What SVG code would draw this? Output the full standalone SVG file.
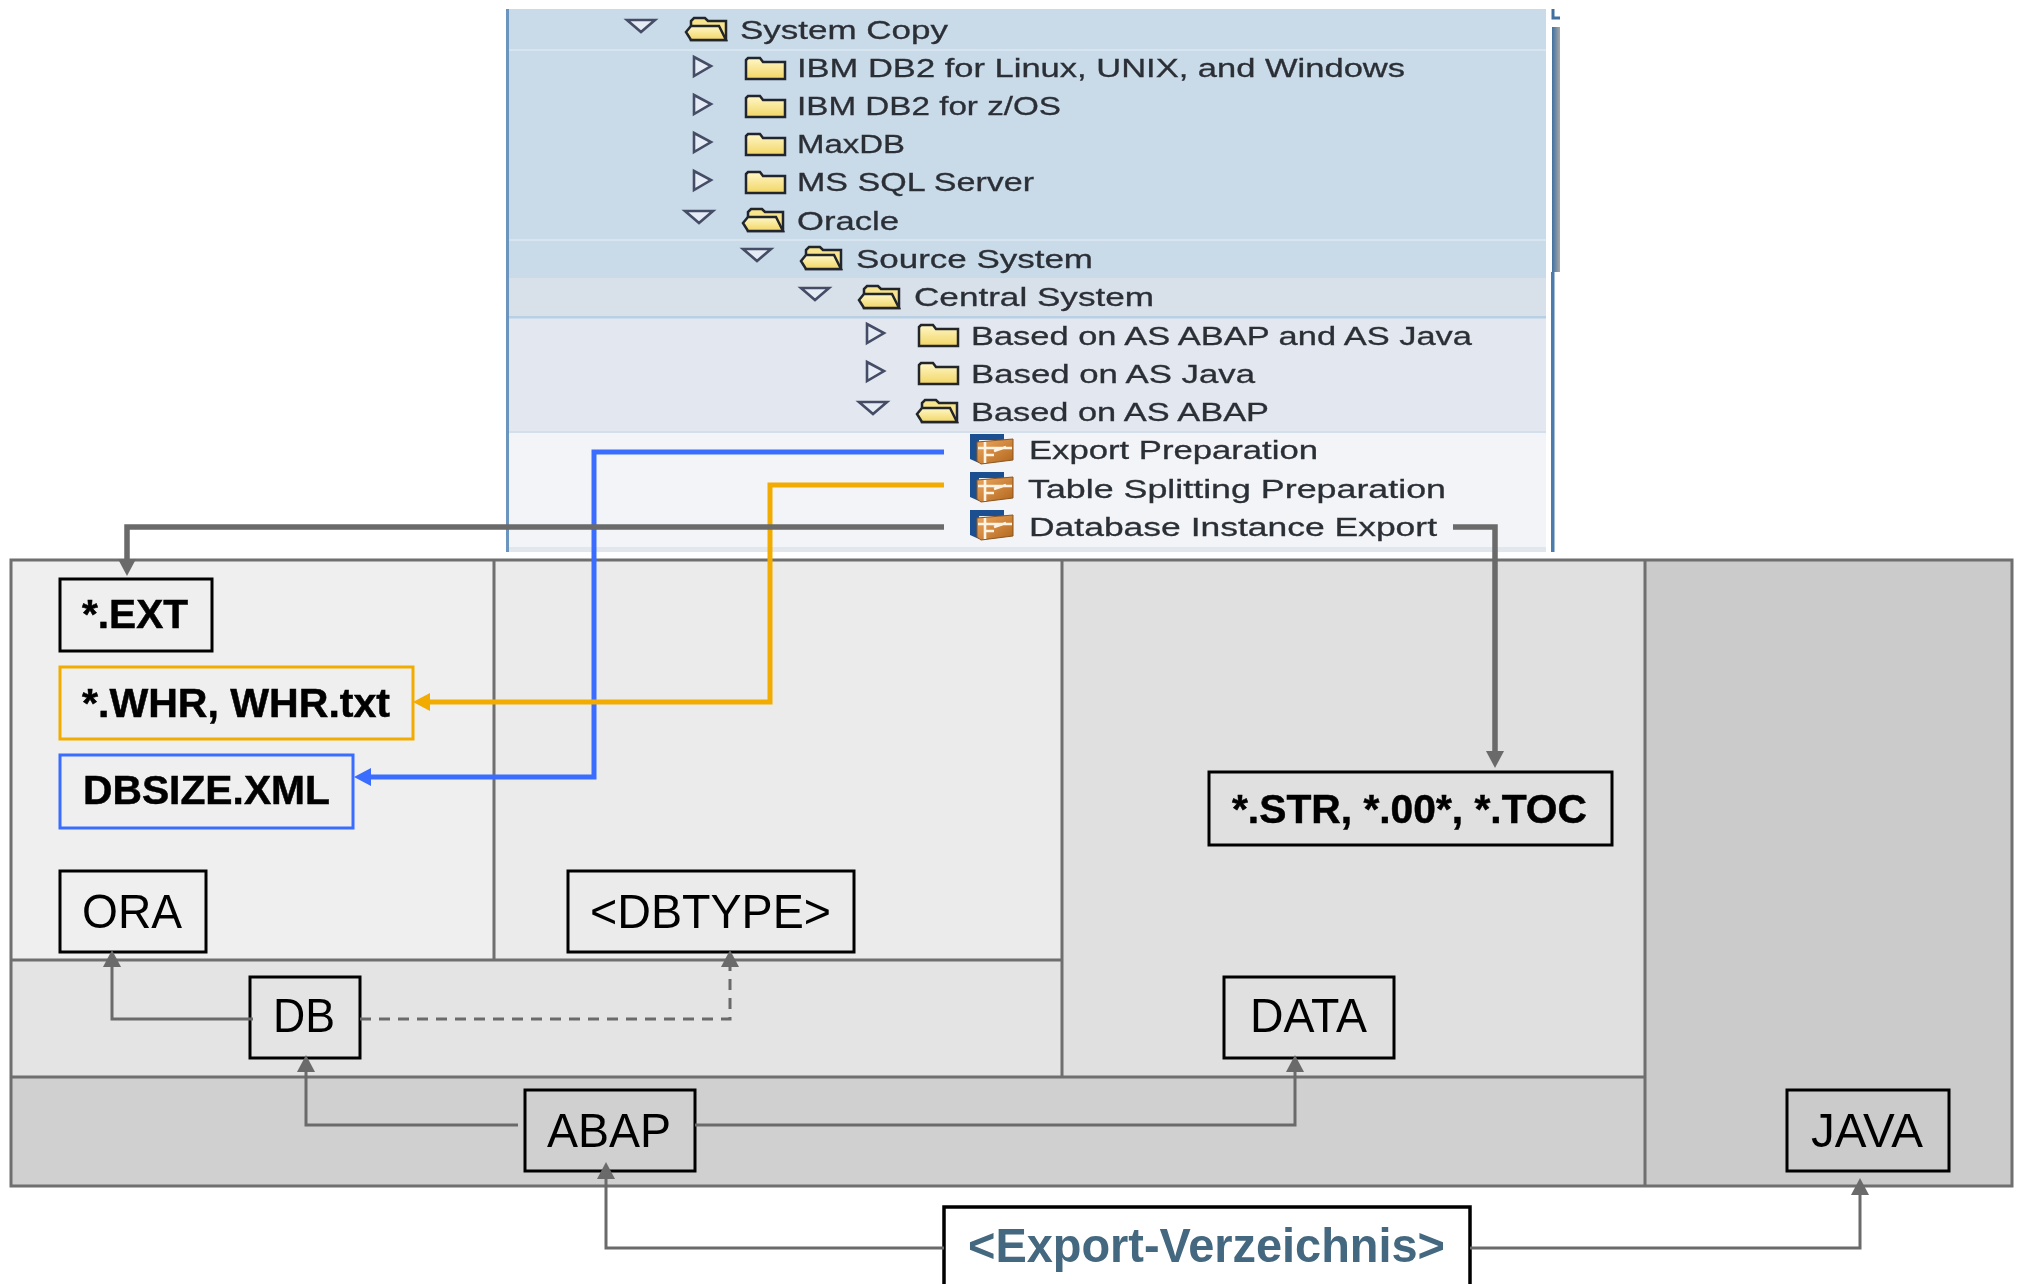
<svg xmlns="http://www.w3.org/2000/svg" width="2018" height="1284" viewBox="0 0 2018 1284">
<style>
text{font-family:"Liberation Sans",Arial,sans-serif;}
.tree{font-size:26px;fill:#2c2f36;stroke:#2c2f36;stroke-width:.3;}
.bold{font-size:41px;font-weight:bold;fill:#000;stroke:#000;stroke-width:.5;}
.reg{font-size:47.5px;fill:#000;}
.lane{stroke:#6f6f6f;stroke-width:3;}
.box{stroke:#000;stroke-width:3;fill:none;}
.gray{fill:none;stroke:#6a6a6a;stroke-width:3;}
.gray5{fill:none;stroke:#6a6a6a;stroke-width:5.5;}
.blue{fill:none;stroke:#3a6cff;stroke-width:5;}
.orange{fill:none;stroke:#f2ab00;stroke-width:5;}
.tri{fill:#e6ecf6;stroke:#454d66;stroke-width:2.6;}
</style>
<defs>
<filter id="soft" x="-5%" y="-30%" width="110%" height="160%"><feGaussianBlur stdDeviation="0.6"/></filter>
<linearGradient id="fy" x1="0" y1="0" x2="0" y2="1"><stop offset="0" stop-color="#fff8c8"/><stop offset="1" stop-color="#f2d565"/></linearGradient>
<linearGradient id="bar" x1="0" y1="0" x2="1" y2="0"><stop offset="0" stop-color="#3f6f9f"/><stop offset="1" stop-color="#a8a8a8"/></linearGradient>
<linearGradient id="og" x1="0" y1="0" x2="1" y2="1"><stop offset="0" stop-color="#f0a860"/><stop offset="1" stop-color="#b0661c"/></linearGradient>
<marker id="hGray" markerUnits="userSpaceOnUse" markerWidth="18" markerHeight="18" refX="0" refY="9" orient="auto"><path d="M0 0L17 9L0 18Z" fill="#6a6a6a"/></marker>
<marker id="hBlue" markerUnits="userSpaceOnUse" markerWidth="18" markerHeight="18" refX="0" refY="9" orient="auto"><path d="M0 0L17 9L0 18Z" fill="#3a6cff"/></marker>
<marker id="hOrange" markerUnits="userSpaceOnUse" markerWidth="18" markerHeight="18" refX="0" refY="9" orient="auto"><path d="M0 0L17 9L0 18Z" fill="#f2ab00"/></marker>
<g id="closed"><path d="M1 22V3L3 1H15L18 5H40V22Z" fill="url(#fy)" stroke="#22262c" stroke-width="2.5"/></g>
<g id="open"><path d="M6 12V4L9 1H20L23 4H41V23H6Z" fill="#f8e48c" stroke="#22262c" stroke-width="2.5"/><path d="M1 15L6 9H34L41 23H6Z" fill="url(#fy)" stroke="#22262c" stroke-width="2.5"/></g>
<g id="down"><path d="M1 1H29L15 13Z" class="tri"/></g>
<g id="right"><path d="M1 1L18 10L1 20Z" class="tri"/></g>
<g id="leaf"><path d="M0 1H34L34 7H9V30L0 26Z" fill="#1c4f8f"/><path d="M7 9L43 6V27L11 31L7 28Z" fill="url(#og)" stroke="#8a5420" stroke-width="1"/><path d="M15 9V30M8 15H42M15 22H24M24 18L36 14" stroke="#fff4e4" stroke-width="2.6" fill="none"/></g>
</defs>

<g id="tree-panel">
<rect x="506" y="9" width="1040" height="269" fill="#c9dae9"/>
<rect x="506" y="278" width="1040" height="39" fill="#d8e0ea"/>
<rect x="506" y="317" width="1040" height="115" fill="#e3e8f0"/>
<rect x="506" y="432" width="1040" height="120" fill="#f2f4f8"/>
<rect x="506" y="49" width="1040" height="2" fill="#d8e4ef"/>
<rect x="506" y="239" width="1040" height="2" fill="#d8e4ef"/>
<rect x="506" y="316" width="1040" height="2.5" fill="#b8cfe4"/>
<rect x="506" y="431" width="1040" height="2" fill="#d3dfea"/>
<rect x="506" y="547" width="1040" height="5" fill="#e2e7ee"/>
<rect x="506" y="9" width="3" height="543" fill="#6c95bd"/>
<rect x="1551" y="272" width="3.5" height="280" fill="#4c7cab"/>
<rect x="1552" y="27" width="8" height="245" fill="url(#bar)"/>
<path d="M1553 9V18H1560" fill="none" stroke="#3f6f9f" stroke-width="3"/>

<g filter="url(#soft)">
<use href="#down" x="626" y="19"/><use href="#open" x="685" y="17"/>
<text class="tree" x="740" y="39" textLength="208" lengthAdjust="spacingAndGlyphs">System Copy</text>
<use href="#right" x="693" y="56"/><use href="#closed" x="745" y="57"/>
<text class="tree" x="797" y="77" textLength="608" lengthAdjust="spacingAndGlyphs">IBM DB2 for Linux, UNIX, and Windows</text>
<use href="#right" x="693" y="94"/><use href="#closed" x="745" y="95"/>
<text class="tree" x="797" y="115" textLength="264" lengthAdjust="spacingAndGlyphs">IBM DB2 for z/OS</text>
<use href="#right" x="693" y="132"/><use href="#closed" x="745" y="133"/>
<text class="tree" x="797" y="153" textLength="108" lengthAdjust="spacingAndGlyphs">MaxDB</text>
<use href="#right" x="693" y="170"/><use href="#closed" x="745" y="171"/>
<text class="tree" x="797" y="191" textLength="237" lengthAdjust="spacingAndGlyphs">MS SQL Server</text>
<use href="#down" x="684" y="210"/><use href="#open" x="742" y="208"/>
<text class="tree" x="797" y="230" textLength="102" lengthAdjust="spacingAndGlyphs">Oracle</text>
<use href="#down" x="742" y="248"/><use href="#open" x="800" y="246"/>
<text class="tree" x="856" y="268" textLength="237" lengthAdjust="spacingAndGlyphs">Source System</text>
<use href="#down" x="800" y="287"/><use href="#open" x="858" y="285"/>
<text class="tree" x="914" y="306" textLength="240" lengthAdjust="spacingAndGlyphs">Central System</text>
<use href="#right" x="866" y="323"/><use href="#closed" x="918" y="324"/>
<text class="tree" x="971" y="345" textLength="501" lengthAdjust="spacingAndGlyphs">Based on AS ABAP and AS Java</text>
<use href="#right" x="866" y="361"/><use href="#closed" x="918" y="362"/>
<text class="tree" x="971" y="383" textLength="284" lengthAdjust="spacingAndGlyphs">Based on AS Java</text>
<use href="#down" x="858" y="401"/><use href="#open" x="916" y="399"/>
<text class="tree" x="971" y="421" textLength="298" lengthAdjust="spacingAndGlyphs">Based on AS ABAP</text>
<use href="#leaf" x="970" y="433"/>
<text class="tree" x="1029" y="459" textLength="289" lengthAdjust="spacingAndGlyphs">Export Preparation</text>
<use href="#leaf" x="970" y="471"/>
<text class="tree" x="1028" y="498" textLength="418" lengthAdjust="spacingAndGlyphs">Table Splitting Preparation</text>
<use href="#leaf" x="970" y="509"/>
<text class="tree" x="1029" y="536" textLength="408" lengthAdjust="spacingAndGlyphs">Database Instance Export</text>
</g>
</g>

<g id="lanes">
<rect x="11" y="560" width="483" height="400" fill="#efefef"/>
<rect x="494" y="560" width="568" height="400" fill="#ebebeb"/>
<rect x="11" y="960" width="1051" height="117" fill="#e4e4e4"/>
<rect x="1062" y="560" width="583" height="517" fill="#e0e0e0"/>
<rect x="11" y="1077" width="1634" height="109" fill="#d0d0d0"/>
<rect x="1645" y="560" width="367" height="626" fill="#cbcbcb"/>
<rect x="11" y="560" width="2001" height="626" fill="none" class="lane"/>
<path class="lane" d="M494 560V960M1062 560V1077M1645 560V1186"/>
<path class="lane" d="M11 960H1062M11 1077H1645"/>
</g>

<g id="node-ext"><rect class="box" x="60" y="579" width="152" height="72"/><text class="bold" x="82" y="628" textLength="106" lengthAdjust="spacingAndGlyphs">*.EXT</text></g>
<g id="node-whr"><rect x="60" y="667" width="353" height="72" fill="none" stroke="#f2ab00" stroke-width="3"/><text class="bold" x="82" y="717" textLength="308" lengthAdjust="spacingAndGlyphs">*.WHR, WHR.txt</text></g>
<g id="node-dbsize"><rect x="60" y="755" width="293" height="73" fill="none" stroke="#3a6cff" stroke-width="3"/><text class="bold" x="83" y="804" textLength="247" lengthAdjust="spacingAndGlyphs">DBSIZE.XML</text></g>
<g id="node-str"><rect class="box" x="1209" y="772" width="403" height="73"/><text class="bold" x="1232" y="823" textLength="355" lengthAdjust="spacingAndGlyphs">*.STR, *.00*, *.TOC</text></g>
<g id="node-ora"><rect class="box" x="60" y="871" width="146" height="81"/><text class="reg" x="82" y="928" textLength="100" lengthAdjust="spacingAndGlyphs">ORA</text></g>
<g id="node-dbtype"><rect class="box" x="568" y="871" width="286" height="81"/><text class="reg" x="590" y="928" textLength="241" lengthAdjust="spacingAndGlyphs">&lt;DBTYPE&gt;</text></g>
<g id="node-db"><rect class="box" x="250" y="977" width="110" height="81"/><text class="reg" x="273" y="1032" textLength="62" lengthAdjust="spacingAndGlyphs">DB</text></g>
<g id="node-data"><rect class="box" x="1224" y="977" width="170" height="81"/><text class="reg" x="1250" y="1032" textLength="117" lengthAdjust="spacingAndGlyphs">DATA</text></g>
<g id="node-abap"><rect class="box" x="525" y="1090" width="170" height="81"/><text class="reg" x="547" y="1147" textLength="124" lengthAdjust="spacingAndGlyphs">ABAP</text></g>
<g id="node-java"><rect class="box" x="1787" y="1090" width="162" height="81"/><text class="reg" x="1811" y="1147" textLength="112" lengthAdjust="spacingAndGlyphs">JAVA</text></g>
<g id="node-export"><rect x="944" y="1207" width="526" height="90" fill="#fff" stroke="#000" stroke-width="3.5"/><text x="968" y="1262" textLength="477" lengthAdjust="spacingAndGlyphs" style="font-size:48px;font-weight:bold;fill:#44687f">&lt;Export-Verzeichnis&gt;</text></g>

<g id="connectors">
<path class="blue" d="M944 452H594V777H371" marker-end="url(#hBlue)"/>
<path class="orange" d="M944 485H770V702H430" marker-end="url(#hOrange)"/>
<path class="gray5" d="M944 527H127V559" marker-end="url(#hGray)"/>
<path class="gray5" d="M1453 527H1495V751" marker-end="url(#hGray)"/>
<path class="gray" d="M253 1019H112V967" marker-end="url(#hGray)"/>
<path class="gray" stroke-dasharray="11 8" d="M360 1019H730V967" marker-end="url(#hGray)"/>
<path class="gray" d="M518 1125H306V1072" marker-end="url(#hGray)"/>
<path class="gray" d="M695 1125H1295V1072" marker-end="url(#hGray)"/>
<path class="gray" d="M944 1248H606V1179" marker-end="url(#hGray)"/>
<path class="gray" d="M1470 1248H1860V1195" marker-end="url(#hGray)"/>
</g>
</svg>
